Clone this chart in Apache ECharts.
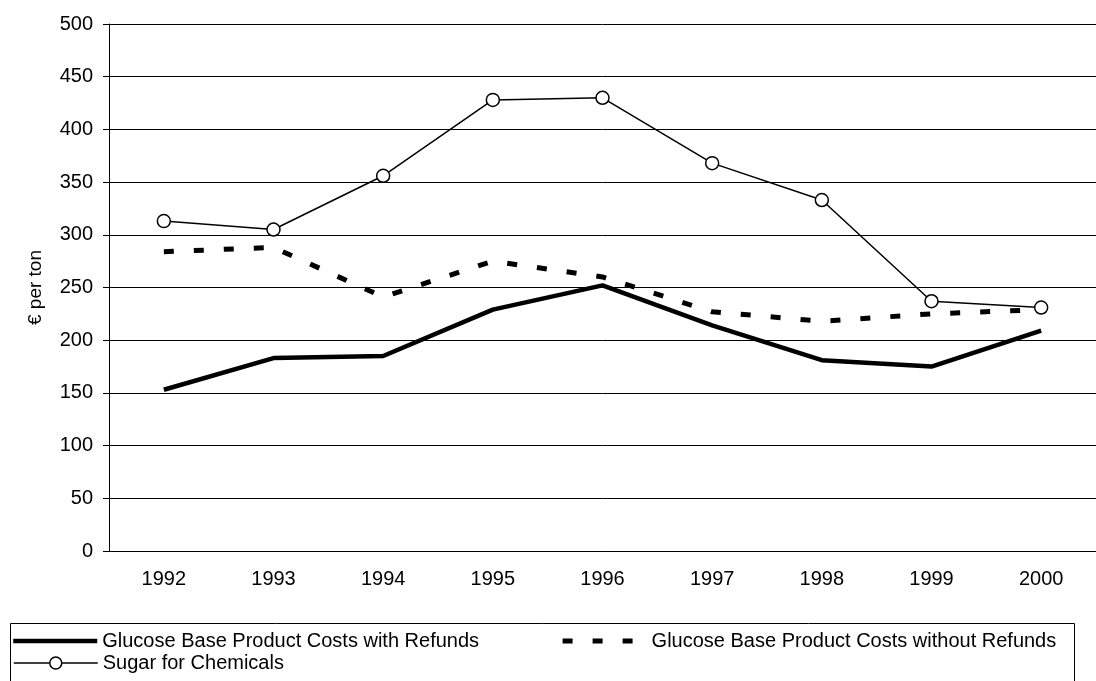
<!DOCTYPE html>
<html>
<head>
<meta charset="utf-8">
<style>
  html, body { margin: 0; padding: 0; background: #fff; }
  #chart { width: 1096px; height: 681px; }
</style>
<script src="https://cdn.jsdelivr.net/npm/echarts@6/dist/echarts.min.js"></script>
</head>
<body>
<div id="chart"></div>
<script>
// values
const years = ['1992', '1993', '1994', '1995', '1996', '1997', '1998', '1999', '2000'];
const withRefunds = [153, 183, 185, 229, 252, 214, 181, 175, 209];
const withoutRefunds = [284, 288, 241, 275, 260, 227, 218, 225, 229];
const sugarForChemicals = [313, 305, 356, 428, 430, 368, 333, 237, 231];
const yTicks = { min: 0, max: 500, interval: 50 };

const nameWith = 'Glucose Base Product Costs with Refunds';
const nameWithout = 'Glucose Base Product Costs without Refunds';
const nameSugar = 'Sugar for Chemicals';

const font = "'Liberation Sans', Arial, sans-serif";
const chart = echarts.init(document.getElementById('chart'));

const option = {
  animation: false,
  backgroundColor: '#fff',
  textStyle: { fontFamily: font, color: '#000' },
  grid: { left: 109, top: 24, width: 999, height: 527 },
  xAxis: {
    type: 'category',
    data: years,
    boundaryGap: true,
    axisLine: { lineStyle: { color: '#000', width: 1 } },
    axisTick: { length: 5, lineStyle: { color: '#000' } },
    axisLabel: { fontSize: 20, color: '#000', margin: 18, fontFamily: font }
  },
  yAxis: {
    type: 'value',
    min: yTicks.min,
    max: yTicks.max,
    interval: yTicks.interval,
    name: '€ per ton',
    nameLocation: 'middle',
    nameGap: 64,
    nameTextStyle: { fontSize: 19, color: '#000', fontFamily: font },
    axisLine: { show: true, lineStyle: { color: '#000', width: 1 } },
    axisTick: { show: true, length: 6, lineStyle: { color: '#000' } },
    axisLabel: { fontSize: 20, color: '#000', margin: 16, fontFamily: font },
    splitLine: { show: true, lineStyle: { color: '#000', width: 1 } }
  },
  legend: [
    {
      // the two glucose lines have no markers, so hide the legend symbol
      data: [
        { name: nameWith, lineStyle: { width: 4.5 } },
        { name: nameWithout, lineStyle: { width: 5 } }
      ],
      left: 11,
      top: 631,
      padding: 0,
      itemWidth: 84,
      itemHeight: 14,
      itemGap: 81,
      selectedMode: false,
      itemStyle: { opacity: 0 },
      textStyle: { fontSize: 20, color: '#000', fontFamily: font }
    },
    {
      data: [{ name: nameSugar, lineStyle: { width: 1.5 } }],
      left: 13,
      top: 653,
      padding: 0,
      itemWidth: 84,
      itemHeight: 15,
      selectedMode: false,
      itemStyle: { borderWidth: 1.5 },
      textStyle: { fontSize: 20, color: '#000', fontFamily: font }
    }
  ],
  graphic: [
    {
      type: 'rect',
      left: 8,
      top: 621,
      shape: { width: 1064, height: 80 },
      style: { fill: 'none', stroke: '#000', lineWidth: 1 },
      silent: true
    }
  ],
  series: [
    {
      name: nameWith,
      type: 'line',
      data: withRefunds,
      symbol: 'none',
      color: '#000',
      lineStyle: { color: '#000', width: 4.5 },
      emphasis: { disabled: true }
    },
    {
      name: nameWithout,
      type: 'line',
      data: withoutRefunds,
      symbol: 'none',
      color: '#000',
      lineStyle: { color: '#000', width: 5, type: [10, 20] },
      emphasis: { disabled: true }
    },
    {
      name: nameSugar,
      type: 'line',
      data: sugarForChemicals,
      symbol: 'circle',
      symbolSize: 13,
      color: '#000',
      lineStyle: { color: '#000', width: 1.5 },
      itemStyle: { color: '#fff', borderColor: '#000', borderWidth: 1.5 },
      emphasis: { disabled: true }
    }
  ]
};

chart.setOption(option);
window.addEventListener('resize', () => chart.resize());
</script>
</body>
</html>
